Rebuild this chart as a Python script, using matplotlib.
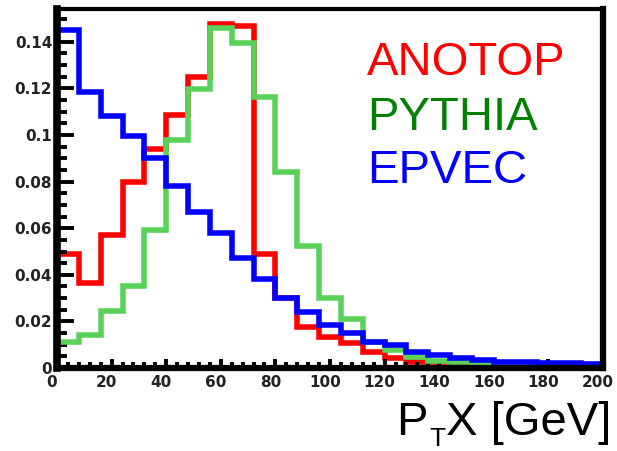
import matplotlib
matplotlib.use("Agg")
import matplotlib.pyplot as plt
import matplotlib.transforms as mtransforms
from matplotlib.ticker import MultipleLocator, FormatStrFormatter
import numpy as np

# 25 bins of 8 GeV between 0 and 200
edges = np.arange(0, 201, 8)

anotop = [0.049, 0.0367, 0.0573, 0.0797, 0.0938, 0.1086, 0.125, 0.1475, 0.1467,
          0.049, 0.030, 0.0177, 0.0135, 0.0106, 0.007, 0.0043, 0.0027, 0.0027,
          0.0013, 0.0013, 0.001, 0.0008, 0.0006, 0.0005, 0.0004]
pythia = [0.011, 0.0142, 0.0243, 0.035, 0.0593, 0.098, 0.1198, 0.1458, 0.1395,
          0.1163, 0.084, 0.0525, 0.030, 0.021, 0.0113, 0.0078, 0.0049, 0.003,
          0.0025, 0.0022, 0.0013, 0.0011, 0.0007, 0.0006, 0.0004]
epvec = [0.145, 0.1185, 0.108, 0.0995, 0.090, 0.078, 0.067, 0.058, 0.0474,
         0.038, 0.030, 0.024, 0.0185, 0.015, 0.011, 0.0097, 0.007, 0.0056,
         0.0043, 0.0035, 0.0025, 0.0025, 0.002, 0.002, 0.0017]

W, H = 617, 451
fig = plt.figure(figsize=(W / 100, H / 100), dpi=100)
ax = fig.add_axes([57 / W, 83 / H, 546 / W, 359 / H])

lw = 4.0
ax.stairs(anotop, edges, color="#ff0000", lw=lw, zorder=1.2)
ax.stairs(pythia, edges, color="#5ad25a", lw=lw, zorder=2.0)
ax.stairs(epvec, edges, color="#0000ff", lw=lw, zorder=2.1)

ax.set_xlim(0, 200)
ax.set_ylim(0, 0.1541)

# ROOT style frame
ax.spines["left"].set_linewidth(5.5)
ax.spines["bottom"].set_linewidth(4.5)
ax.spines["top"].set_linewidth(3.0)
ax.spines["right"].set_linewidth(4.5)

ax.xaxis.set_major_locator(MultipleLocator(20))
ax.xaxis.set_minor_locator(MultipleLocator(4))
ax.yaxis.set_major_locator(MultipleLocator(0.02))
ax.yaxis.set_minor_locator(MultipleLocator(0.005))
ax.yaxis.set_major_formatter(FormatStrFormatter("%g"))

ax.tick_params(axis="both", which="both", direction="in", top=False, right=False,
               width=2.8, color="black")
ax.tick_params(axis="x", which="major", length=6.5, pad=5)
ax.tick_params(axis="x", which="minor", length=4.3)
ax.tick_params(axis="y", which="major", length=12, pad=3.5)
ax.tick_params(axis="y", which="minor", length=7)

for lab in ax.get_xticklabels() + ax.get_yticklabels():
    lab.set_fontfamily("DejaVu Sans")
    lab.set_fontweight("bold")
    lab.set_fontsize(11)
    lab.set_color("#222222")

shift = mtransforms.ScaledTranslation(-5 / 100, 0, fig.dpi_scale_trans)
for lab in ax.get_xticklabels():
    lab.set_transform(lab.get_transform() + shift)

# the y "0" sits a little higher so it clears the x "0"
ylabs = ax.get_yticklabels()
up = mtransforms.ScaledTranslation(0, 3 / 100, fig.dpi_scale_trans)
ylabs[0].set_transform(ylabs[0].get_transform() + up)

# legend labels
font = "Liberation Sans"
fig.text(367 / W, 1 - 75 / H, "ANOTOP", color="#ff0000", fontsize=34,
         family=font, va="baseline", ha="left")
fig.text(367 / W, 1 - 130 / H, "PYTHIA", color="#008000", fontsize=34,
         family=font, va="baseline", ha="left")
fig.text(367 / W, 1 - 183 / H, "EPVEC", color="#0000ff", fontsize=34,
         family=font, va="baseline", ha="left")

# axis title P_T X [GeV]
fig.text(428 / W, 1 - 435 / H, "P", fontsize=34, family=font,
         va="baseline", ha="right")
fig.text(429 / W, 0.5 / H, "T", fontsize=19, family=font,
         va="bottom", ha="left")
fig.text(611 / W, 1 - 435 / H, "X [GeV]", fontsize=34, family=font,
         va="baseline", ha="right")

fig.savefig("out.png", dpi=100)
